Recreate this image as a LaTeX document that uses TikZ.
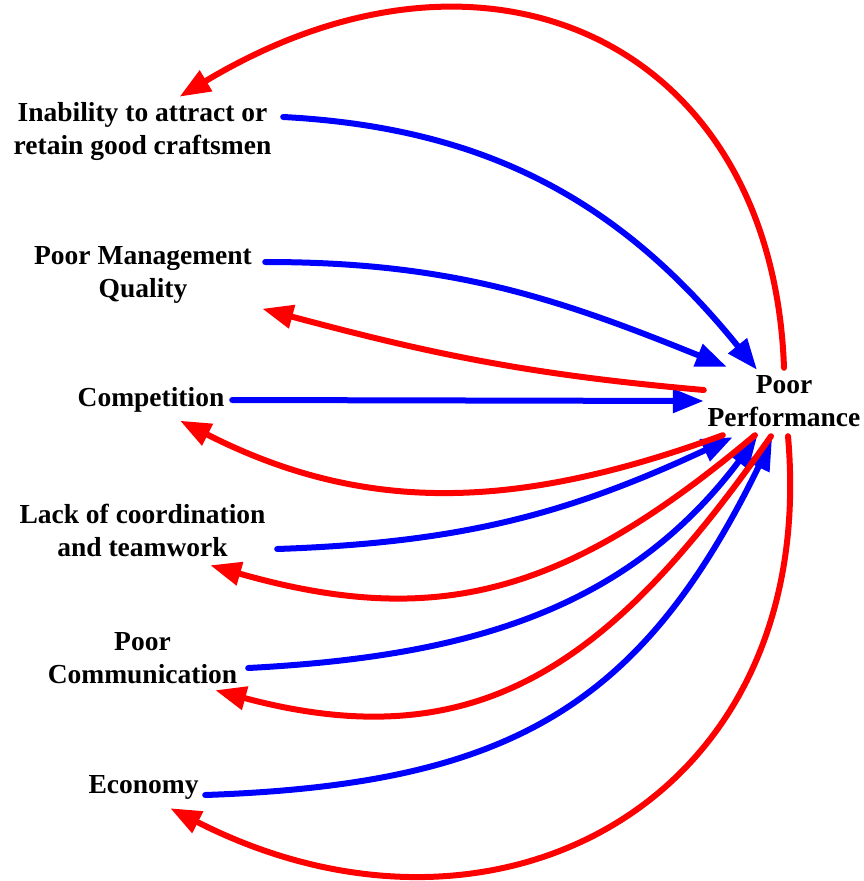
\documentclass[tikz,border=0pt]{standalone}
\usepackage{fontspec}
\setmainfont{Liberation Serif}
\usetikzlibrary{arrows.meta}
\tikzset{
    factor/.style={font=\bfseries\fontsize{27.5}{33}\selectfont, align=center, inner sep=0pt},
    linkB/.style={draw=blue, line width=6pt, line cap=round,
        -{Triangle[length=31pt,width=23pt]}},
    linkR/.style={draw=red, line width=6pt, line cap=round,
        -{Triangle[length=31pt,width=23pt]}}
}

\begin{document}
\begin{tikzpicture}[x=1pt,y=1pt]
    \useasboundingbox (0,0) rectangle (863,-881);
    % causes on the left
    \node[factor, minimum width=265pt, minimum height=58pt] (inab) at (142.5,-131) {Inability to attract or\\retain good craftsmen};
    \node[factor, minimum width=226pt, minimum height=59pt] (mgmt) at (143,-275) {Poor Management\\Quality};
    \node[factor, minimum width=152pt, minimum height=24pt] (comp) at (151,-400) {Competition};
    \node[factor, minimum width=251pt, minimum height=60pt] (lack) at (142.5,-530) {Lack of coordination\\and teamwork};
    \node[factor, minimum width=195pt, minimum height=60pt] (comm) at (142.5,-658) {Poor\\Communication};
    \node[factor, minimum width=113pt, minimum height=26pt] (econ) at (143.5,-787) {Economy};
    % the effect
    \node[factor, minimum width=160pt, minimum height=68pt] (pp) at (784,-401) {Poor\\Performance};

    % causes -> effect
    \draw[linkB] ([xshift=8pt,yshift=14pt]inab.east) to[out=-3,in=129] ([xshift=-27pt,yshift=-3pt]pp.north);
    \draw[linkB] ([xshift=9pt,yshift=13pt]mgmt.east) to[out=0,in=158] ([xshift=23pt]pp.north west);
    \draw[linkB] ([xshift=5pt]comp.east) -- (pp.west);
    \draw[linkB] ([xshift=9pt,yshift=-19pt]lack.east) to[out=2,in=205] ([xshift=29pt,yshift=-2pt]pp.south west);
    \draw[linkB] ([xshift=8pt,yshift=-10pt]comm.east) to[out=3,in=233] ([xshift=-27pt,yshift=-2pt]pp.south);
    \draw[linkB] ([xshift=5pt,yshift=-8pt]econ.east) to[out=2,in=244,looseness=1.15] ([xshift=-12pt,yshift=-4pt]pp.south);

    % effect -> causes
    \draw[linkR] ([yshift=-1pt]pp.north) to[out=92,in=31,out looseness=1.25,in looseness=1.4] ([xshift=37pt,yshift=5pt]inab.north);
    \draw[linkR] ([yshift=11pt]pp.west) to[out=175,in=-15] ([xshift=6pt,yshift=-4pt]mgmt.south east);
    \draw[linkR] ([xshift=19pt]pp.south west) to[out=200,in=-27] ([xshift=29pt,yshift=-8pt]comp.south);
    \draw[linkR] ([xshift=-29pt]pp.south) to[out=220,in=-16,looseness=1.1] ([xshift=-58pt,yshift=-5pt]lack.south east);
    \draw[linkR] ([xshift=-13pt,yshift=-1pt]pp.south) to[out=235,in=-15,looseness=1.15] ([xshift=-25pt,yshift=-2pt]comm.south east);
    \draw[linkR] ([xshift=4pt,yshift=-1pt]pp.south) to[out=-85,in=-27,looseness=1.3] ([xshift=-30pt,yshift=-8pt]econ.south east);
\end{tikzpicture}
\end{document}
